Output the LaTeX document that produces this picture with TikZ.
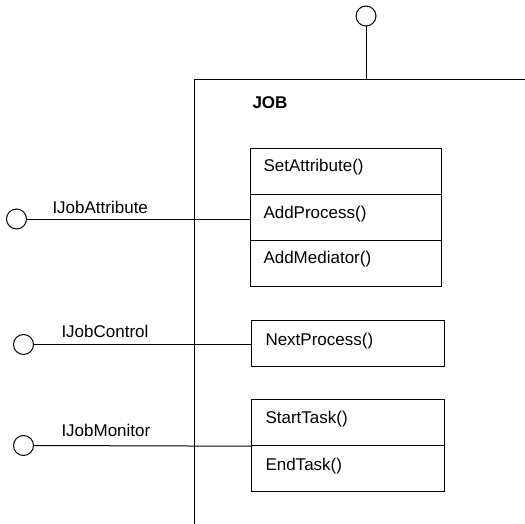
\documentclass[tikz,border=0pt]{standalone}
\usepackage{fontspec}
\setmainfont{Liberation Sans}
\begin{document}
\begin{tikzpicture}[x=1bp,y=-1bp,line width=1bp,
  port/.style={draw,circle,minimum size=20bp,inner sep=0pt},
  cell/.style={draw,rectangle,inner sep=0pt},
  txt/.style={anchor=base west,inner sep=0pt,font=\fontsize{17bp}{20bp}\selectfont},
  title/.style={txt,font=\fontsize{17bp}{20bp}\selectfont\bfseries}]
\useasboundingbox (0,0) rectangle (525,524);

% component frame (open to the right and bottom)
\coordinate (frameR) at (525,79.3);
\coordinate (frameTL) at (194,79.3);
\coordinate (frameB) at (194,524);
\draw (frameR) -- (frameTL) -- (frameB);
\node[title] (job) at (252,108.3) {JOB};

% operation compartments
\node[cell,minimum width=191.7bp,minimum height=46bp] (setattr) at (345.85,171.3) {};
\node[cell,minimum width=191.7bp,minimum height=45.7bp] (addproc) at (345.85,217.15) {};
\node[cell,minimum width=191.7bp,minimum height=46.7bp] (addmed) at (345.85,263.35) {};
\node[cell,minimum width=192.3bp,minimum height=46.7bp] (nextproc) at (347.85,343.35) {};
\node[cell,minimum width=192.3bp,minimum height=46.7bp] (starttask) at (347.85,422.35) {};
\node[cell,minimum width=192.3bp,minimum height=46bp] (endtask) at (347.85,468.7) {};

\node[txt] (tsetattr) at (263,171.7) {SetAttribute()};
\node[txt] (taddproc) at (263,218.3) {AddProcess()};
\node[txt] (taddmed) at (263,263.7) {AddMediator()};
\node[txt] (tnextproc) at (265,345) {NextProcess()};
\node[txt] (tstarttask) at (265,423.3) {StartTask()};
\node[txt] (tendtask) at (265,470) {EndTask()};

% interface lollipops
\node[port] (ptop) at (366,16) {};
\draw (ptop.south) -- (ptop.south |- frameTL);

\node[port] (pattr) at (16.5,219) {};
\draw (pattr.east) -- (pattr.east -| addproc.west);
\node[txt] (lattr) at (52,213.3) {IJobAttribute};

\node[port] (pctrl) at (23.5,344.5) {};
\draw (pctrl.east) -- (pctrl.east -| nextproc.west);
\node[txt] (lctrl) at (61,337.7) {IJobControl};

\node[port] (pmon) at (23.5,445.5) {};
\draw (pmon.east) -- (starttask.south west);
\node[txt] (lmon) at (61,436.7) {IJobMonitor};
\end{tikzpicture}
\end{document}
